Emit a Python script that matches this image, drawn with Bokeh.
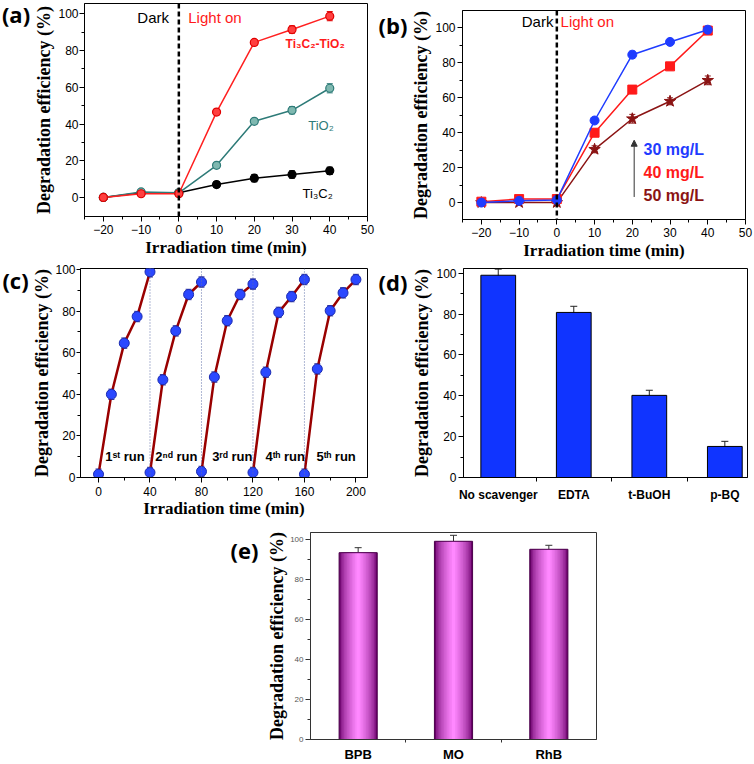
import numpy as np
from bokeh.plotting import figure
from bokeh.models import (Range1d, FixedTicker, ColumnDataSource, Whisker, TeeHead,
                          Span, Label, Arrow, NormalHead)
from bokeh.core.properties import value
from bokeh.layouts import column, row
from bokeh.embed import file_html
from bokeh.resources import INLINE

# ---------------- data ----------------
# (a) catalysts
a_time = [-20, -10, 0, 10, 20, 30, 40]
a_ti3c2_tio2 = [0, 2, 2, 46.5, 84.5, 91.5, 98.8]
a_ti3c2_tio2_err = [1, 1, 1, 1.5, 1.5, 2, 2.5]
a_tio2 = [0, 3, 2.5, 17.5, 41.5, 47.5, 59.5]
a_tio2_err = [1, 1, 1, 1.5, 1.5, 2, 2.5]
a_ti3c2 = [0, 2.5, 2.5, 7, 10.5, 12.5, 14.5]
a_ti3c2_err = [1, 1, 1, 1.5, 2, 2, 2]

# (b) initial concentration
b_time = [-20, -10, 0, 10, 20, 30, 40]
b_30 = [0, 1, 1.5, 47, 84.7, 92, 99]
b_30_err = [1, 2, 1.5, 1.5, 2, 1.5, 2]
b_40 = [0.5, 2, 2, 40, 64.7, 78, 98.5]
b_40_err = [1, 2, 1.5, 2, 2, 2, 2]
b_50 = [0, 0, 0, 30.5, 48, 58, 70]
b_50_err = [1, 1.5, 1.5, 2, 2.5, 2, 2.5]
b_labels = ["30 mg/L", "40 mg/L", "50 mg/L"]

# (c) recycling runs
c_time = [[0, 10, 20, 30, 40], [40, 50, 60, 70, 80], [80, 90, 100, 110, 120],
          [120, 130, 140, 150, 160], [160, 170, 180, 190, 200]]
c_eff = [[1.6, 40, 64.6, 77.4, 98.9], [2.4, 47, 70.5, 88, 94], [2.9, 48.3, 75.4, 88, 93],
         [2.4, 50.6, 79.4, 87, 95.2], [1.6, 52.2, 80.2, 88.8, 95.2]]
c_err = 2.5
c_run_bounds = [40, 80, 120, 160]
c_run_labels = ["1ˢᵗ run", "2ⁿᵈ run", "3ʳᵈ run", "4ᵗʰ run", "5ᵗʰ run"]
c_run_label_x = [20.5, 60.5, 104, 145, 184.6]

# (d) scavengers
d_cats = ["No scavenger", "EDTA", "t-BuOH", "p-BQ"]
d_vals = [99, 80.8, 40.2, 15.2]
d_err = [3, 3, 2.5, 2.5]

# (e) dyes
e_cats = ["BPB", "MO", "RhB"]
e_vals = [93.5, 99.2, 95.2]
e_err = [2.5, 3, 2]

panel_letters = ["(a)", "(b)", "(c)", "(d)", "(e)"]

YLABEL = "Degradation efficiency (%)"
XLABEL = "Irradiation time (min)"
SANS = "Liberation Sans"
SERIF = "Liberation Serif"


def make_fig(w, h, xr, yr, left, right, top, bottom):
    p = figure(width=w, height=h, x_range=Range1d(*xr), y_range=Range1d(*yr),
               output_backend="svg", toolbar_location=None,
               min_border_left=left, min_border_right=right,
               min_border_top=top, min_border_bottom=bottom)
    p.xgrid.visible = False
    p.ygrid.visible = False
    p.outline_line_color = "black"
    p.outline_line_width = 1
    p.outline_line_alpha = 1
    for ax in (p.xaxis[0], p.yaxis[0]):
        ax.axis_line_color = "black"
        ax.major_tick_in = 0
        ax.major_tick_out = 5
        ax.minor_tick_in = 0
        ax.minor_tick_out = 3
        ax.major_label_text_font = SANS
        ax.major_label_text_font_size = "12px"
        ax.major_label_text_color = "black"
        ax.major_label_standoff = 3
        ax.axis_label_text_font = SERIF
        ax.axis_label_text_font_style = "bold"
        ax.axis_label_text_color = "black"
        ax.axis_label_standoff = 1
    p.yaxis.major_label_standoff = 2
    p.xaxis.axis_label_text_font_size = "17px"
    p.yaxis.axis_label_text_font_size = "18px"
    return p


def letter_fig(w, h, cx, cy, letter):
    # a small blank canvas (pixel coordinates, y downwards) holding a panel letter
    p = figure(width=w, height=h, x_range=Range1d(0, w), y_range=Range1d(h, 0),
               output_backend="svg", toolbar_location=None,
               x_axis_location=None, y_axis_location=None,
               min_border_left=0, min_border_right=0, min_border_top=0, min_border_bottom=0)
    p.grid.visible = False
    p.outline_line_color = None
    p.text(x=[cx], y=[cy], text=[letter], text_font=value("Open Sans"),
           text_font_style="bold", text_font_size=value("22px"), text_color="black",
           text_align="center", text_baseline="middle")
    return p


def add_err(p, x, y, err, color, size=6, width=1):
    if np.isscalar(err):
        err = [err] * len(y)
    src = ColumnDataSource(dict(base=list(x),
                                upper=[v + e for v, e in zip(y, err)],
                                lower=[v - e for v, e in zip(y, err)]))
    p.add_layout(Whisker(source=src, base="base", upper="upper", lower="lower",
                         line_color=color, line_width=width,
                         upper_head=TeeHead(size=size, line_color=color, line_width=width),
                         lower_head=TeeHead(size=size, line_color=color, line_width=width)))


def lab(p, x, y, text, size, color="black", bold=False, font=SANS, align="left"):
    p.add_layout(Label(x=x, y=y, text=text, text_font=font, text_font_size=f"{size}px",
                       text_font_style="bold" if bold else "normal", text_color=color,
                       text_align=align, text_baseline="middle"))


time_ticks = FixedTicker(ticks=[-20, -10, 0, 10, 20, 30, 40, 50],
                         minor_ticks=[-25, -15, -5, 5, 15, 25, 35, 45])


def eff_ticks():
    return FixedTicker(ticks=[0, 20, 40, 60, 80, 100], minor_ticks=[10, 30, 50, 70, 90])


# ---------------- (a) ----------------
pa = make_fig(344, 264, (-25, 50), (-10.4, 105.7), 51, 8, 3, 48)
pa.xaxis.ticker = time_ticks
pa.yaxis.ticker = eff_ticks()
pa.yaxis.major_label_standoff = 1
pa.xaxis.axis_label = XLABEL
pa.yaxis.axis_label = YLABEL
pa.add_layout(Span(location=0, dimension="height", line_color="black",
                   line_width=2.5, line_dash="5 3"))
series_a = [(a_ti3c2, a_ti3c2_err, "black", "black", "black"),
            (a_tio2, a_tio2_err, "#2e7b78", "#7fb8b0", "#2e7b78"),
            (a_ti3c2_tio2, a_ti3c2_tio2_err, "#ff2020", "#ff4040", "#e00000")]
for ys, es, lc_, fc, mc in series_a:
    pa.line(a_time, ys, line_color=lc_, line_width=1.5)
    add_err(pa, a_time, ys, es, mc, size=6)
    pa.scatter(a_time, ys, marker="circle", size=8, fill_color=fc, line_color=mc, line_width=1.2)
lab(pa, -11, 98, "Dark", 15)
lab(pa, 2.5, 98, "Light on", 15, color="#ff1a1a")
lab(pa, 28.3, 83.4, "Ti₃C₂-TiO₂", 12, color="#ff1a1a", bold=True)
lab(pa, 34.3, 39, "TiO₂", 13, color="#2e7b78")
lab(pa, 32.8, 2, "Ti₃C₂", 13, color="black")
la = letter_fig(31, 264, 15.5, 13, panel_letters[0])

# ---------------- (b) ----------------
pb = make_fig(346, 264, (-25, 50), (-9.7, 110), 52, 9, 10, 45)
pb.xaxis.ticker = time_ticks
pb.yaxis.ticker = eff_ticks()
pb.xaxis.axis_label = XLABEL
pb.yaxis.axis_label = YLABEL
pb.add_layout(Span(location=0, dimension="height", line_color="black",
                   line_width=2.5, line_dash="5 3"))
series_b = [(b_50, b_50_err, "#8b1414", "star", 12),
            (b_40, b_40_err, "#ff1a1a", "square", 9),
            (b_30, b_30_err, "#1f3cff", "circle", 9)]
for ys, es, col, mk, sz in series_b:
    pb.line(b_time, ys, line_color=col, line_width=1.5)
    add_err(pb, b_time, ys, es, col, size=6)
    pb.scatter(b_time, ys, marker=mk, size=sz, fill_color=col, line_color=col)
lab(pb, -9.3, 103.8, "Dark", 15)
lab(pb, 1, 103.8, "Light on", 15, color="#ff1a1a")
b_label_y = [30.5, 17.5, 4.2]
b_label_col = ["#1f3cff", "#ff1a1a", "#8b1414"]
for t, yy, cc in zip(b_labels, b_label_y, b_label_col):
    lab(pb, 23, yy, t, 16, color=cc, bold=True)
ARROW_X, ARROW_Y0, ARROW_Y1 = 20.5, 3.2, 35.7
pb.add_layout(Arrow(x_start=ARROW_X, y_start=ARROW_Y0, x_end=ARROW_X, y_end=ARROW_Y1,
                    line_color="#333333", line_width=1,
                    end=NormalHead(size=6, fill_color="#333333", line_color="#333333")))
lb = letter_fig(33, 264, 17.5, 18, panel_letters[1])

# ---------------- (c) ----------------
pc = make_fig(346, 256, (-14, 209), (0, 100.5), 48, 8, 4, 43)
pc.xaxis.ticker = FixedTicker(ticks=[0, 40, 80, 120, 160, 200],
                              minor_ticks=[20, 60, 100, 140, 180])
pc.yaxis.ticker = eff_ticks()
pc.xaxis.axis_label = XLABEL
pc.yaxis.axis_label = YLABEL
pc.yaxis.major_tick_out = 4
pc.yaxis.major_label_standoff = 1
pc.yaxis.axis_label_standoff = 0
pc.xaxis.major_label_standoff = 4
pc.xaxis.axis_label_standoff = 0
for b in c_run_bounds:
    pc.add_layout(Span(location=b, dimension="height", line_color="#6070a8",
                       line_width=1, line_dash="1 2"))
for xs, ys in zip(c_time, c_eff):
    pc.line(xs, ys, line_color="#990000", line_width=2.5)
    add_err(pc, xs, ys, c_err, "#3a3a9a", size=6)
    pc.scatter(xs, ys, marker="circle", size=10, fill_color="#2b48ff", line_color="#1a2ab0")
for t, xx in zip(c_run_labels, c_run_label_x):
    lab(pc, xx, 10, t, 13, bold=True, align="center")
lc = letter_fig(29, 256, 15, 14, panel_letters[2])

# ---------------- (d) ----------------
d_pos = [i + 1 for i in range(len(d_cats))]
pd_ = make_fig(345, 256, (0.54, 4.3), (0, 102.3), 52, 7, 4, 43)
pd_.xaxis.ticker = FixedTicker(ticks=d_pos, minor_ticks=[p_ + 0.5 for p_ in d_pos[:-1]])
pd_.xaxis.major_label_overrides = {p_: c for p_, c in zip(d_pos, d_cats)}
pd_.xaxis.major_tick_out = 0
pd_.xaxis.minor_tick_out = 4
pd_.xaxis.major_label_text_font_style = "bold"
pd_.xaxis.major_label_standoff = 6
pd_.yaxis.ticker = eff_ticks()
pd_.yaxis.axis_label = YLABEL
pd_.vbar(x=d_pos, top=d_vals, width=0.46, fill_color="#1034ff", line_color="#000000",
         line_width=1)
add_err(pd_, d_pos, d_vals, d_err, "#222222", size=7)
ld = letter_fig(34, 256, 17.5, 16, panel_letters[3])

# ---------------- (e) ----------------
e_pos = [i + 1 for i in range(len(e_cats))]
pe = make_fig(492, 244, (0.5, 3.5), (0, 103.6), 48, 158, 12, 21)
pe.outline_line_color = "#333333"
pe.xaxis.ticker = FixedTicker(ticks=e_pos, minor_ticks=[p_ + 0.5 for p_ in e_pos[:-1]])
pe.xaxis.major_label_overrides = {p_: c for p_, c in zip(e_pos, e_cats)}
pe.xaxis.major_tick_out = 0
pe.xaxis.minor_tick_out = 3
pe.xaxis.major_label_text_font_style = "bold"
pe.xaxis.major_label_text_font_size = "13px"
pe.xaxis.major_label_standoff = 4
pe.yaxis.ticker = eff_ticks()
pe.yaxis.major_label_text_font_size = "8px"
pe.yaxis.major_label_text_color = "#555555"
pe.yaxis.axis_label = YLABEL
pe.yaxis.axis_label_standoff = 0
for ax in (pe.xaxis[0], pe.yaxis[0]):
    ax.axis_line_color = "#333333"
    ax.major_tick_line_color = "#333333"
    ax.minor_tick_line_color = "#333333"
BAR_W = 0.4
n_layers = 12
dark = np.array([0x6a, 0x00, 0x6a])
light = np.array([0xff, 0x88, 0xff])
for k in range(n_layers):
    t = (k / (n_layers - 1)) ** 0.6
    c = (dark + (light - dark) * t).astype(int)
    col = "#%02x%02x%02x" % tuple(c)
    pe.vbar(x=e_pos, top=e_vals, width=BAR_W * (1 - k / n_layers), fill_color=col,
            line_color=None)
pe.vbar(x=e_pos, top=e_vals, width=BAR_W, fill_color=None, line_color="#4a004a",
        line_width=1)
add_err(pe, e_pos, e_vals, e_err, "#333333", size=7)
le = letter_fig(262, 244, 244, 21, panel_letters[4])

left_col = column(row(la, pa), row(lc, pc))
right_col = column(row(lb, pb), row(ld, pd_))
p = column(row(left_col, right_col), row(le, pe))
open("out.html", "w").write(file_html(p, INLINE))
